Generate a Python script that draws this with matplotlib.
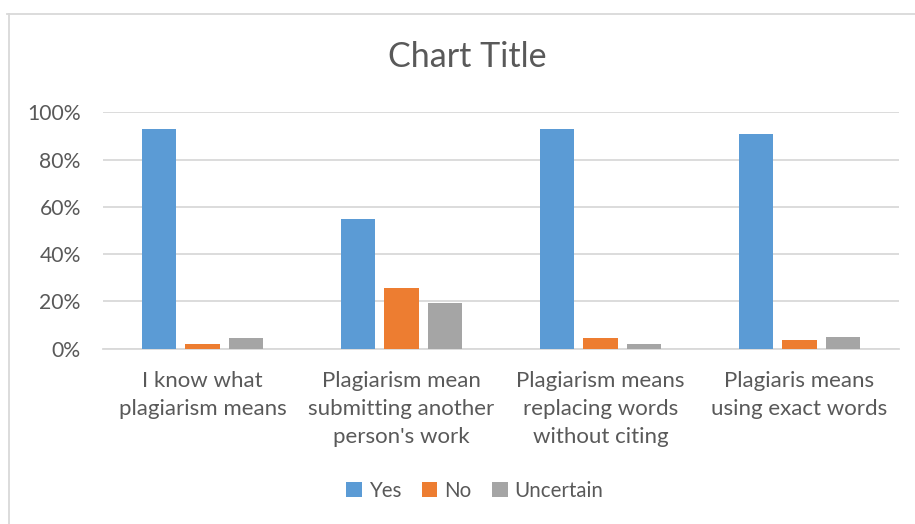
import numpy as np
import matplotlib
matplotlib.use('Agg')
import matplotlib.pyplot as plt
from matplotlib.lines import Line2D

plt.rcParams['font.family'] = ['Lato', 'DejaVu Sans']

categories = ['I know what\nplagiarism means',
              'Plagiarism mean\nsubmitting another\nperson\'s work',
              'Plagiarism means\nreplacing words\nwithout citing',
              'Plagiaris means\nusing exact words']
series = ['Yes', 'No', 'Uncertain']
yes = [92.8, 54.7, 92.8, 90.7]
no = [2.0, 25.5, 4.4, 3.7]
uncertain = [4.4, 19.2, 2.0, 5.1]
colors = ['#5B9BD5', '#ED7D31', '#A5A5A5']
txt = '#595959'

fig = plt.figure(figsize=(9.15, 5.24), dpi=100)
ax = fig.add_axes([103/915, 1-348.7/524, 796/915, 236.4/524])

x = np.arange(len(categories))
w = 0.171
step = 0.221
for i, (vals, name) in enumerate(zip([yes, no, uncertain], series)):
    ax.bar(x + (i-1)*step, vals, width=w, color=colors[i], label=name, zorder=3)

ax.set_xlim(-0.5, len(categories)-0.5)
ax.set_ylim(0, 100)
ax.set_yticks(np.arange(0, 101, 20))
ax.set_yticklabels([f'{v}%' for v in range(0, 101, 20)])
ax.yaxis.grid(True, color='#D9D9D9', linewidth=1.3, zorder=0)
ax.set_xticks(x)
ax.set_xticklabels(categories, linespacing=1.5, va='top')
for s in ['top', 'right', 'left']:
    ax.spines[s].set_visible(False)
ax.spines['bottom'].set_color('#D9D9D9')
ax.spines['bottom'].set_linewidth(1.3)
ax.tick_params(axis='x', length=0, colors=txt, labelsize=16, pad=16)
ax.tick_params(axis='y', length=0, colors=txt, labelsize=15.2, pad=16)

fig.text(0.511, 1-57/524, 'Chart Title', ha='center', va='center', fontsize=24.5, color=txt)

leg = fig.legend(loc='center', bbox_to_anchor=(0.519, 1-491/524), ncol=3, frameon=False,
                 fontsize=14.8, handlelength=0.75, handleheight=0.75, handletextpad=0.35,
                 columnspacing=1.0, labelcolor=txt)

# chart border (top and left visible)
fig.add_artist(Line2D([7/915, 1], [1-13.5/524, 1-13.5/524], color='#D9D9D9', lw=1.3))
fig.add_artist(Line2D([8.5/915, 8.5/915], [0, 1-13.5/524], color='#D9D9D9', lw=1.3))

fig.savefig('out.png', dpi=100)
